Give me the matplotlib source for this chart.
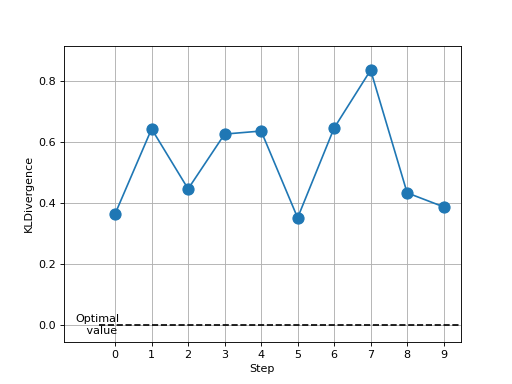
import matplotlib
matplotlib.use("Agg")
import matplotlib.pyplot as plt

steps = [0, 1, 2, 3, 4, 5, 6, 7, 8, 9]
kl = [0.364, 0.643, 0.446, 0.626, 0.636, 0.351, 0.646, 0.836, 0.433, 0.387]
optimal = 0.0

fig, ax = plt.subplots(figsize=(6.4, 4.8), dpi=80)
ax.plot(steps, kl, marker='o', markersize=10, color='#1f77b4')
ax.hlines(optimal, -0.45, 9.6, colors='black', linestyles='--')
ax.text(-1.08, optimal, "Optimal\n   value", ha='left', va='center')
ax.set_xticks(steps)
ax.set_xlim(-1.4, 9.47)
ax.set_ylim(-0.056, 0.915)
ax.set_xlabel("Step")
ax.set_ylabel("KLDivergence")
ax.grid(True)
fig.savefig("out.png", dpi=80)
